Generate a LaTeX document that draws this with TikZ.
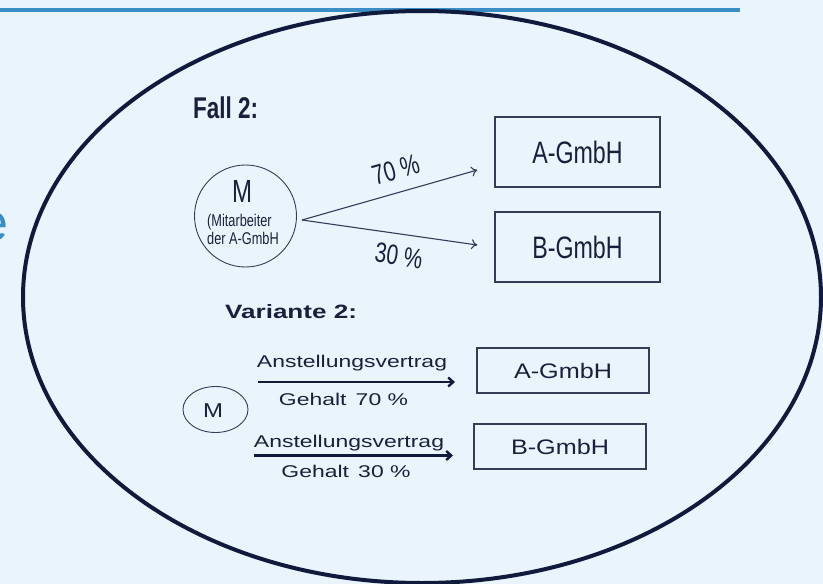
\documentclass[tikz,border=0pt]{standalone}
\usepackage{fontspec}
\setmainfont{Liberation Sans}
\newfontfamily\narrowfont[FakeStretch=0.75]{Liberation Sans}
\newfontfamily\midfont[FakeStretch=1.2]{Liberation Sans}
\newfontfamily\widefont[FakeStretch=1.35]{Liberation Sans}
\usepackage{tikz}
\usetikzlibrary{arrows.meta}
\usetikzlibrary{calc}
\usetikzlibrary{shapes}
\definecolor{bgblue}{RGB}{234,244,253}
\definecolor{lineblue}{RGB}{58,141,197}
\definecolor{navy}{RGB}{16,26,60}
\definecolor{inkblue}{RGB}{26,32,60}

\begin{document}
\begin{tikzpicture}[x=1pt, y=-1pt, text=inkblue,
        firm_style/.style={draw=navy!85, line width=1.3pt, inner sep=0pt},
        big_firm/.style={firm_style, minimum width=165pt, minimum height=70pt, font=\narrowfont\fontsize{31}{33}\selectfont},
        small_firm/.style={firm_style, minimum width=172pt, minimum height=45pt, font=\midfont\fontsize{21}{23}\selectfont},
        person_style/.style={ellipse, draw=navy!85, line width=0.9pt, inner sep=0pt},
        share_edge/.style={draw=navy!85, line width=1.1pt, -{To[length=6pt,width=10pt]}},
        contract_edge/.style={draw=navy, line width=2.4pt, -{Straight Barb[length=5pt,width=9pt]}},
        pct_label/.style={sloped, font=\narrowfont\fontsize{28}{30}\selectfont},
        small_label/.style={anchor=base, font=\widefont\fontsize{17}{19}\selectfont}]

        % background and frame
        \fill [bgblue] (0,0) rectangle (823,584);
        \useasboundingbox (0,0) rectangle (823,584);
        \draw [lineblue, line width=4pt] (0,10) -- (740,10);
        \node [text=lineblue, font=\fontsize{52}{54}\selectfont, anchor=base east, inner sep=0pt] (cutoff) at (9,240) {e};
        \draw [navy, line width=4pt] (422,297) ellipse [x radius=399pt, y radius=286pt];

        % Fall 2
        \node [font=\narrowfont\bfseries\fontsize{30}{32}\selectfont, anchor=base west, inner sep=0pt] (fall) at (193,118) {Fall 2:};
        \node [person_style, minimum width=102pt, minimum height=102pt] (m1) at (245.5,216) {};
        \node [font=\narrowfont\fontsize{32}{34}\selectfont, anchor=base, inner sep=0pt] (m1name) at (242,202) {M};
        \node [font=\narrowfont\fontsize{17}{18}\selectfont, anchor=base west, inner sep=0pt] (m1text) at (207,226) {(Mitarbeiter};
        \node [font=\narrowfont\fontsize{17}{18}\selectfont, anchor=base west, inner sep=0pt] (m1text2) at (207,244) {der A-GmbH};
        \coordinate (fork) at (302,220);
        \node [big_firm] (a1) at (577.5,152) {A-GmbH};
        \node [big_firm] (b1) at (577.5,247) {B-GmbH};
        \draw [share_edge] (fork) -- ($(a1.west)+(-17,18)$) coordinate (a1in)
            node [pct_label, pos=0.57, above=9pt] (p70) {70 \%};
        \draw [share_edge] (fork) -- ($(b1.west)+(-17,-2)$) coordinate (b1in)
            node [pct_label, pos=0.57, below=8pt] (p30) {30 \%};

        % Variante 2
        \node [font=\widefont\bfseries\fontsize{19.3}{21}\selectfont, anchor=base west, inner sep=0pt] (var) at (225,318) {Variante 2:};
        \node [person_style, minimum width=65pt, minimum height=46pt] (m2) at (215.5,409.5) {};
        \node [font=\midfont\fontsize{20}{22}\selectfont, anchor=base, inner sep=0pt] (m2name) at (213,417) {M};
        \node [small_firm] (a2) at (563,370.5) {A-GmbH};
        \node [small_firm] (b2) at (560,446.5) {B-GmbH};
        \coordinate (c1start) at (258,382);
        \coordinate (c1end) at (455,382);
        \coordinate (c2start) at (254,455.5);
        \coordinate (c2end) at (453,455.5);
        \draw [contract_edge] (c1start) -- (c1end);
        \draw [contract_edge] (c2start) -- (c2end);
        \node [small_label] (c1top) at (352,367) {Anstellungsvertrag};
        \node [small_label] (c1bot) at (343.5,405) {Gehalt\, 70 \%};
        \node [small_label] (c2top) at (349,447) {Anstellungsvertrag};
        \node [small_label] (c2bot) at (346,477) {Gehalt\, 30 \%};
        \end{tikzpicture}
\end{document}
